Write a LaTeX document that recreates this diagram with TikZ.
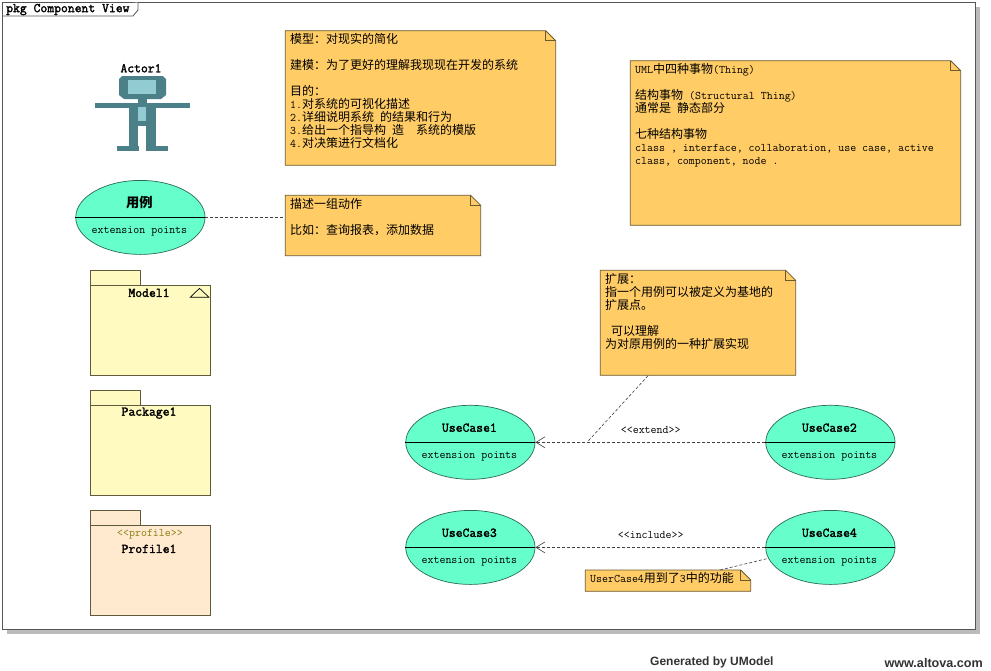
\documentclass[tikz,border=0pt]{standalone}
\usepackage{fontspec}
\usetikzlibrary{shapes.geometric,arrows.meta}
\newfontfamily\cjk{Noto Sans CJK SC}
\newfontfamily\footfont{Liberation Sans}
\newfontfamily\heavymono[FakeBold=2]{Latin Modern Mono}
\newcommand\C[1]{{\fontsize{12}{13}\cjk\selectfont #1}}
\newcommand\lead{\rule{0pt}{12pt}}
\definecolor{framegray}{HTML}{555555}
\definecolor{shadowgray}{HTML}{BBBBBB}
\definecolor{notefill}{HTML}{FFCC66}
\definecolor{noteline}{HTML}{6B5A30}
\definecolor{casefill}{HTML}{66FFCC}
\definecolor{caseline}{HTML}{2A6A58}
\definecolor{pkgfill}{HTML}{FFFBC0}
\definecolor{proffill}{HTML}{FFE9CF}
\definecolor{pkgline}{HTML}{5E5A3C}
\definecolor{actordark}{HTML}{4C8088}
\definecolor{actorlight}{HTML}{92CCD2}
\definecolor{olive}{HTML}{8A7D10}
\definecolor{footgray}{HTML}{333333}
\tikzset{
  x=1pt,y=-1pt,
  regular/.style={font=\ttfamily\fontsize{11.6}{13}\selectfont,inner sep=0pt,text=black},
  boldname/.style={font=\heavymono\fontsize{13.3}{15}\selectfont,inner sep=0pt,text=black},
  notetext/.style={regular,anchor=north west,align=left},
  notebody/.style={draw=noteline,fill=notefill,line width=0.8pt,line join=miter},
  casebody/.style={ellipse,draw=caseline,fill=casefill,line width=0.7pt,minimum width=129.3pt,minimum height=74pt,inner sep=0pt},
  pkgbody/.style={draw=pkgline,line width=0.8pt},
  dashline/.style={draw=black!75,line width=0.6pt,dash pattern=on 3pt off 2pt},
  openarrow/.style={-{Straight Barb[length=9pt,width=11pt,line width=0.6pt]}},
}
\newcommand\umlnote[5]{%
  \begin{scope}[shift={(#2,#3)}]
    \path[notebody] (0,0) -- ({#4-10},0) -- (#4,10) -- (#4,#5) -- (0,#5) -- cycle;
    \draw[noteline,line width=0.8pt] ({#4-10},0) -- ({#4-10},10) -- (#4,10);
    \node[minimum width=#4 pt,minimum height=#5 pt,inner sep=0pt,anchor=north west] (#1) at (0,0) {};
  \end{scope}}
\newcommand\umlpkg[3]{%
  \begin{scope}[shift={(90.3,#2)}]
    \path[pkgbody,fill=#3] (0,0) rectangle (50,15);
    \path[pkgbody,fill=#3] (0,15) rectangle (120.4,105);
    \node[minimum width=120.4pt,minimum height=90pt,inner sep=0pt,anchor=north west] (#1) at (0,15) {};
  \end{scope}}
\newcommand\umlcase[4]{%
  \node[casebody] (#1) at (#2,#3) {};
  \draw[black,line width=0.8pt] (#1.west) -- (#1.east);
  \node[boldname] (#1title) at (#2-1,{#3-14.6}) {#4};
  \node[regular] (#1points) at (#2-1,{#3+14}) {extension points};}
\begin{document}
\begin{tikzpicture}
\useasboundingbox (0,0) rectangle (991,670);
\fill[white] (0,0) rectangle (991,670);
% frame
\fill[shadowgray] (7,7) rectangle (980,634);
\path[draw=framegray,fill=white,line width=1pt] (2.5,2.5) rectangle (975,629);
\path[draw=framegray,fill=white,line width=0.8pt] (2.5,16) -- (133,16) -- (138,10) -- (138,2.5);
\node[boldname,anchor=west] (frametitle) at (6,9.5) {pkg Component View};
% actor
\node[boldname] (actorname) at (141,68.2) {Actor1};
\fill[actordark] (122,76) -- (163,76) -- (166,79) -- (166,95) -- (161,99) -- (124,99) -- (119,95) -- (119,79) -- cycle;
\fill[actorlight] (128,80) rectangle (156,94);
\fill[actordark] (138,99) rectangle (147,104);
\fill[actordark] (95,103) rectangle (190,108);
\fill[actordark] (129,105) rectangle (156,126);
\fill[actordark] (129,126) rectangle (138,146);
\fill[actordark] (146,126) rectangle (156,146);
\fill[actordark] (117,146) rectangle (139,151);
\fill[actordark] (146,146) rectangle (168,151);
\fill[actorlight] (138,107) rectangle (146,121);
% use case note
\umlcase{usecase}{140.4}{217.4}{\cjk\bfseries 用例}
\umlnote{usecasenote}{285.3}{195.3}{195.4}{60.4}
\node[notetext] (usecasenotetext) at (290,196.2) {\lead\C{描述一组动作}\\[13pt]\C{比如：查询报表，添加数据}};
\draw[dashline] (usecase.east) -- (usecasenote.west |- usecase.east);
% packages
\umlpkg{model}{270.3}{pkgfill}
\node[boldname] (modelname) at (149,292.8) {Model1};
\draw[black,line width=0.7pt] (190.3,297.3) -- (199.5,288.3) -- (209,297.3) -- cycle;
\umlpkg{package}{390.3}{pkgfill}
\node[boldname] (packagename) at (149,413) {Package1};
\umlpkg{profile}{510.3}{proffill}
\node[regular,text=olive] (profilekind) at (150,534) {<{}<profile>{}>};
\node[boldname] (profilename) at (149,548.8) {Profile1};
% notes
\umlnote{modelnote}{285.3}{30.7}{270.4}{134.6}
\node[notetext] (modelnotetext) at (290,31.2) {\lead\C{模型：对现实的简化}\\[13pt]\C{建模：为了更好的理解我现现在开发的系统}\\[13pt]\C{目的：}\\1.\C{对系统的可视化描述}\\2.\C{详细说明系统} \C{的结果和行为}\\3.\C{给出一个指导构} \C{造}~~\C{系统的模版}\\4.\C{对决策进行文档化}};
\umlnote{thingnote}{630.3}{60.7}{330.4}{164.6}
\node[notetext] (thingnotetext) at (635,61.2) {\lead UML\C{中四种事物}(Thing)\\[13pt]\C{结构事物} (Structural Thing)\\\C{通常是} \C{静态部分}\\[13pt]\C{七种结构事物}\\class , interface, collaboration, use case, active\\class, component, node .};
\umlnote{extendnote}{600.3}{270.3}{195.4}{105}
\node[notetext] (extendnotetext) at (605,270.8) {\lead\C{扩展：}\\\C{指一个用例可以被定义为基地的}\\\C{扩展点。}\\[13pt]~\C{可以理解}\\\C{为对原用例的一种扩展实现}};
% use cases
\umlcase{caseone}{470.4}{442.3}{UseCase1}
\umlcase{casetwo}{830.4}{442.3}{UseCase2}
\umlcase{casethree}{470.4}{547.4}{UseCase3}
\umlcase{casefour}{830.4}{547.4}{UseCase4}
\draw[dashline,openarrow] (casetwo.west) -- (caseone.east);
\draw[dashline,openarrow] (casefour.west) -- (casethree.east);
\node[regular] (extendlabel) at (650.7,430.2) {<{}<extend>{}>};
\node[regular] (includelabel) at (650.7,535.2) {<{}<include>{}>};
\coordinate (extendfoot) at (587,442.3);
\coordinate (extendtop) at (648,375.7);
\draw[dashline] (extendtop) -- (extendfoot);
\umlnote{includenote}{585.3}{570}{165.4}{21.3}
\node[notetext] (includenotetext) at (590,570) {\lead UserCase4\C{用到了}3\C{中的功能}};
\coordinate (includetop) at (720,570);
\draw[dashline] (includetop) -- (casefour.190);
% footer
\node[font=\footfont\bfseries\fontsize{12}{14}\selectfont,text=footgray,anchor=west,inner sep=0pt] (generated) at (650,662.5) {Generated by UModel};
\node[font=\footfont\bfseries\fontsize{12.6}{14}\selectfont,text=footgray,anchor=east,inner sep=0pt] (altova) at (983,662.5) {www.altova.com};
\end{tikzpicture}
\end{document}
